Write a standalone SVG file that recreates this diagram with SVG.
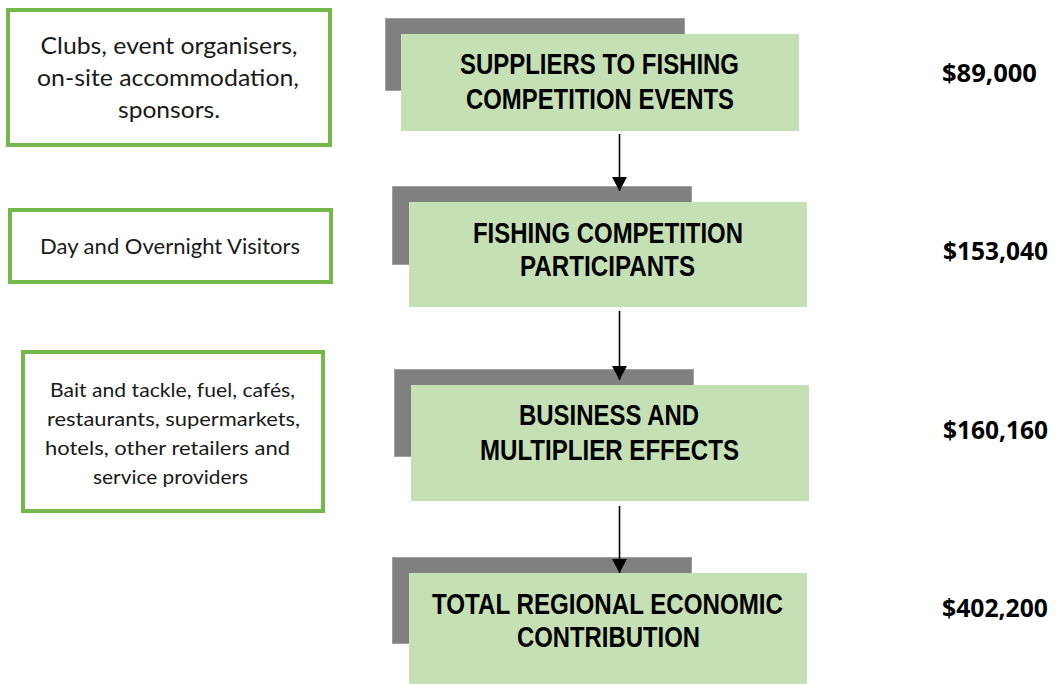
<svg xmlns="http://www.w3.org/2000/svg" width="1056" height="684" viewBox="0 0 1056 684">
  <style>
    .note { fill: #ffffff; stroke: #74b74a; stroke-width: 4; }
    .note-text { font-family: Lato, "Open Sans", "Liberation Sans", sans-serif; fill: #1a1a1a; text-anchor: middle; }
    .shadow { fill: #808080; stroke: #a0a0a0; stroke-width: 1; }
    .stage { fill: #c5e0b4; }
    .stage-text { font-family: "Liberation Sans", Arial, sans-serif; font-weight: bold; font-size: 29px; fill: #000000; text-anchor: middle; }
    .value { font-family: "Open Sans", Lato, "Liberation Sans", sans-serif; font-weight: bold; font-size: 25px; fill: #000000; }
    .link { stroke: #000000; stroke-width: 1.6; fill: none; marker-end: url(#head); }
  </style>
  <defs>
    <marker id="head" viewBox="0 0 14 15" refX="14" refY="7.5" markerWidth="14" markerHeight="15" markerUnits="userSpaceOnUse" orient="auto">
      <path d="M0,0 L14,7.5 L0,15 Z" fill="#000000"/>
    </marker>
  </defs>

  <rect width="1056" height="684" fill="#ffffff"/>

  <!-- side notes -->
  <g id="note-suppliers">
    <rect class="note" x="8" y="10" width="322" height="135"/>
    <text class="note-text" font-size="23" x="169" y="54" textLength="257" lengthAdjust="spacingAndGlyphs">Clubs, event organisers,</text>
    <text class="note-text" font-size="23" x="168" y="86" textLength="262" lengthAdjust="spacingAndGlyphs">on-site accommodation,</text>
    <text class="note-text" font-size="23" x="169" y="118" textLength="102" lengthAdjust="spacingAndGlyphs">sponsors.</text>
  </g>

  <g id="note-visitors">
    <rect class="note" x="10" y="210" width="321" height="72"/>
    <text class="note-text" font-size="22" x="170" y="254" textLength="260" lengthAdjust="spacingAndGlyphs">Day and Overnight Visitors</text>
  </g>

  <g id="note-business">
    <rect class="note" x="23" y="352" width="300" height="159"/>
    <text class="note-text" font-size="20" x="172.5" y="397" textLength="245" lengthAdjust="spacingAndGlyphs">Bait and tackle, fuel, cafés,</text>
    <text class="note-text" font-size="20" x="173.5" y="426" textLength="253" lengthAdjust="spacingAndGlyphs">restaurants, supermarkets,</text>
    <text class="note-text" font-size="20" x="167.5" y="455" textLength="245" lengthAdjust="spacingAndGlyphs">hotels, other retailers and</text>
    <text class="note-text" font-size="20" x="170.5" y="484" textLength="155" lengthAdjust="spacingAndGlyphs">service providers</text>
  </g>

  <!-- stages -->
  <g id="stage-suppliers">
    <rect class="shadow" x="385.5" y="18.5" width="299" height="72"/>
    <rect class="stage" x="401" y="34" width="398" height="97"/>
    <text class="stage-text" x="599.5" y="74" textLength="279" lengthAdjust="spacingAndGlyphs">SUPPLIERS TO FISHING</text>
    <text class="stage-text" x="600" y="109" textLength="268" lengthAdjust="spacingAndGlyphs">COMPETITION EVENTS</text>
  </g>

  <g id="stage-participants">
    <rect class="shadow" x="392.5" y="186.5" width="299" height="78"/>
    <rect class="stage" x="409" y="202" width="398" height="105"/>
    <text class="stage-text" x="608" y="243" textLength="270" lengthAdjust="spacingAndGlyphs">FISHING COMPETITION</text>
    <text class="stage-text" x="607.5" y="276" textLength="175" lengthAdjust="spacingAndGlyphs">PARTICIPANTS</text>
  </g>

  <g id="stage-business">
    <rect class="shadow" x="394.5" y="369.5" width="299" height="87"/>
    <rect class="stage" x="411" y="385" width="398" height="116"/>
    <text class="stage-text" x="609" y="425" textLength="180" lengthAdjust="spacingAndGlyphs">BUSINESS AND</text>
    <text class="stage-text" x="609.5" y="460" textLength="259" lengthAdjust="spacingAndGlyphs">MULTIPLIER EFFECTS</text>
  </g>

  <g id="stage-total">
    <rect class="shadow" x="392.5" y="557.5" width="299" height="86"/>
    <rect class="stage" x="409" y="573" width="398" height="111"/>
    <text class="stage-text" x="607.5" y="614" textLength="351" lengthAdjust="spacingAndGlyphs">TOTAL REGIONAL ECONOMIC</text>
    <text class="stage-text" x="608.5" y="647" textLength="183" lengthAdjust="spacingAndGlyphs">CONTRIBUTION</text>
  </g>

  <!-- values -->
  <g id="values">
    <text class="value" x="942" y="82" textLength="95" lengthAdjust="spacingAndGlyphs">$89,000</text>
    <text class="value" x="943" y="260" textLength="105" lengthAdjust="spacingAndGlyphs">$153,040</text>
    <text class="value" x="943" y="439" textLength="105" lengthAdjust="spacingAndGlyphs">$160,160</text>
    <text class="value" x="942" y="617" textLength="106" lengthAdjust="spacingAndGlyphs">$402,200</text>
  </g>

  <!-- connectors -->
  <g id="connectors">
    <line class="link" x1="619.5" y1="134" x2="619.5" y2="191"/>
    <line class="link" x1="619.5" y1="311" x2="619.5" y2="380"/>
    <line class="link" x1="619.5" y1="506" x2="619.5" y2="573"/>
  </g>
</svg>
